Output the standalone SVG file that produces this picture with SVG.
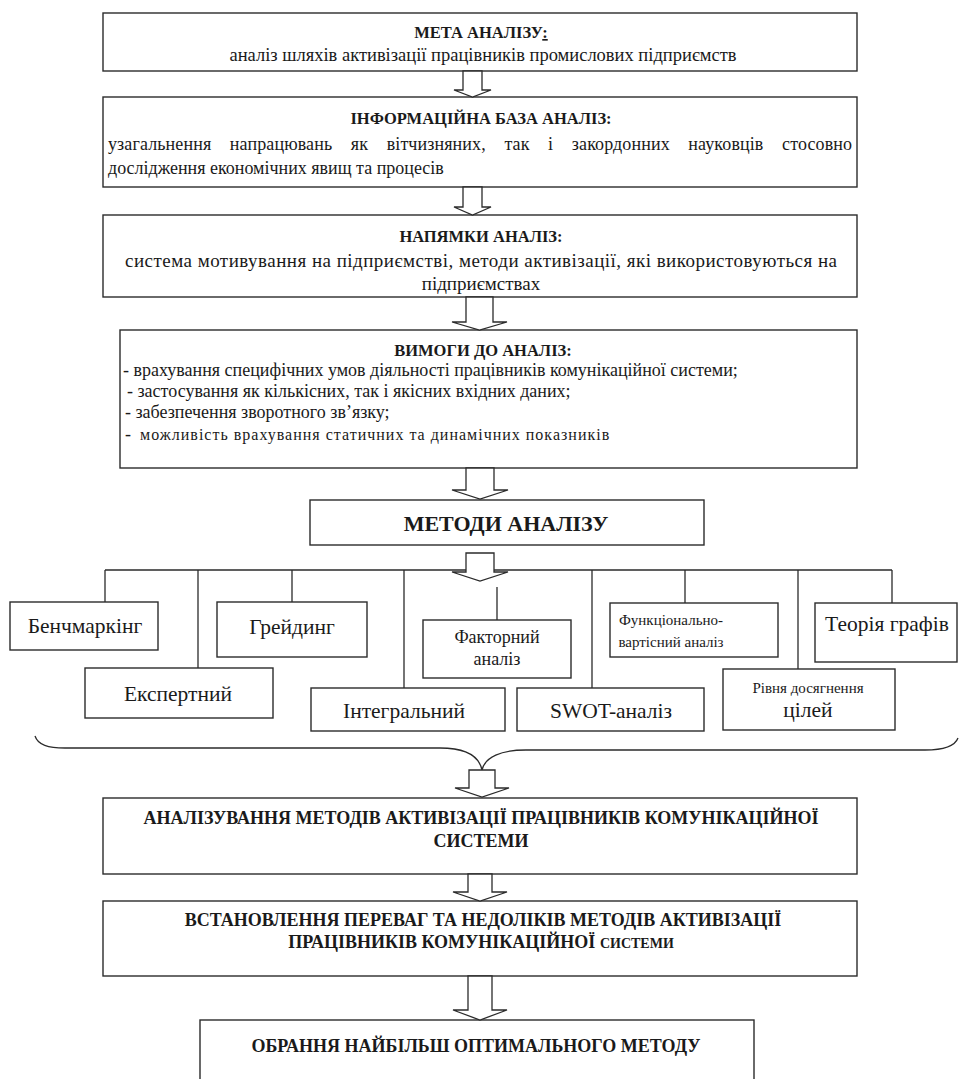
<svg xmlns="http://www.w3.org/2000/svg" width="961" height="1079" viewBox="0 0 961 1079" font-family="'Liberation Serif', 'Times New Roman', serif">
<style>
.bx{fill:#fff;stroke:#2b2b2b;stroke-width:1.4}
.ar{fill:#fff;stroke:#2b2b2b;stroke-width:1.3;stroke-linejoin:miter}
.ln{fill:none;stroke:#2b2b2b;stroke-width:1.3}
text{font-family:'Liberation Serif','Times New Roman',serif;fill:#1a1a1a}
.t{font-weight:bold;font-size:16.5px;text-anchor:middle}
.tb{font-weight:bold;font-size:18px;text-anchor:middle}
.b{font-size:18.5px}
.c{text-anchor:middle}
.l{font-size:18px}
.m{font-size:21.5px;text-anchor:middle}
.s{font-size:15px;text-anchor:middle}
</style>
<rect width="961" height="1079" fill="#fff"/>
<g id="goal">
<rect class="bx" x="103" y="13" width="754" height="58"/>
<text class="t" x="481" y="38">МЕТА АНАЛІЗУ<tspan text-decoration="underline">:</tspan></text>
<text class="b c" x="483" y="61">аналіз шляхів активізації працівників промислових підприємств</text>
</g>
<g id="infobase">
<rect class="bx" x="103" y="97" width="754" height="90"/>
<text class="t" x="481" y="124">ІНФОРМАЦІЙНА БАЗА АНАЛІЗ:</text>
<text x="108" y="150" font-size="18" word-spacing="14" textLength="744" lengthAdjust="spacing">узагальнення напрацювань як вітчизняних, так і закордонних науковців стосовно</text>
<text x="108" y="174" font-size="18">дослідження економічних явищ та процесів</text>
</g>
<g id="directions">
<rect class="bx" x="103" y="215" width="754" height="82"/>
<text class="t" x="481" y="242">НАПЯМКИ АНАЛІЗ:</text>
<text class="c" x="481" y="267" font-size="19" textLength="712" lengthAdjust="spacing">система мотивування на підприємстві, методи активізації, які використовуються на</text>
<text class="c" x="481" y="290" font-size="19">підприємствах</text>
</g>
<g id="requirements">
<rect class="bx" x="120" y="330" width="737" height="138"/>
<text class="t" x="483" y="356">ВИМОГИ ДО АНАЛІЗ:</text>
<text class="l" x="123" y="376">- врахування специфічних умов діяльності працівників комунікаційної системи;</text>
<text class="l" x="127" y="397">- застосування як кількісних, так і якісних вхідних даних;</text>
<text class="l" x="125" y="418">- забезпечення зворотного зв’язку;</text>
<text class="l" y="440"><tspan x="125">-</tspan><tspan x="140" font-size="16" letter-spacing="1">можливість врахування статичних та динамічних показників</tspan></text>
</g>
<g id="methods">
<rect class="bx" x="310" y="500" width="394" height="45"/>
<text x="506" y="531" font-size="22" font-weight="bold" text-anchor="middle">МЕТОДИ АНАЛІЗУ</text>
</g>
<g id="m-benchmarking">
<rect class="bx" x="10" y="602" width="148" height="48"/>
<text class="m" x="85" y="633">Бенчмаркінг</text>
</g>
<g id="m-grading">
<rect class="bx" x="217" y="602" width="150" height="55"/>
<text class="m" x="292" y="634">Грейдинг</text>
</g>
<g id="m-factor">
<rect class="bx" x="423" y="620" width="148" height="58"/>
<text x="497" y="643" font-size="18" text-anchor="middle">Факторний</text>
<text x="497" y="665" font-size="18" text-anchor="middle">аналіз</text>
</g>
<g id="m-fva">
<rect class="bx" x="610" y="603" width="168" height="54"/>
<text class="s" x="671" y="625">Функціонально-</text>
<text class="s" x="671" y="647">вартісний аналіз</text>
</g>
<g id="m-graph">
<rect class="bx" x="815" y="603" width="142" height="59"/>
<text class="m" x="887" y="631">Теорія графів</text>
</g>
<g id="m-expert">
<rect class="bx" x="85" y="668" width="188" height="50"/>
<text class="m" x="178" y="701">Експертний</text>
</g>
<g id="m-integral">
<rect class="bx" x="311" y="688" width="194" height="43"/>
<text class="m" x="404" y="718" font-size="22">Інтегральний</text>
</g>
<g id="m-swot">
<rect class="bx" x="517" y="688" width="187" height="43"/>
<text class="m" x="611" y="718" font-size="22">SWOT-аналіз</text>
</g>
<g id="m-goals">
<rect class="bx" x="723" y="669" width="172" height="61"/>
<text class="s" x="808" y="693">Рівня досягнення</text>
<text class="m" x="808" y="717">цілей</text>
</g>
<g id="analysing">
<rect class="bx" x="103" y="798" width="754" height="76"/>
<text class="tb" x="481" y="824">АНАЛІЗУВАННЯ МЕТОДІВ АКТИВІЗАЦІЇ ПРАЦІВНИКІВ КОМУНІКАЦІЙНОЇ</text>
<text class="tb" x="481" y="847">СИСТЕМИ</text>
</g>
<g id="pros-cons">
<rect class="bx" x="103" y="901" width="754" height="75"/>
<text class="tb" x="483" y="926">ВСТАНОВЛЕННЯ ПЕРЕВАГ ТА НЕДОЛІКІВ МЕТОДІВ АКТИВІЗАЦІЇ</text>
<text class="tb" x="481" y="948">ПРАЦІВНИКІВ КОМУНІКАЦІЙНОЇ <tspan font-size="14">СИСТЕМИ</tspan></text>
</g>
<g id="choice">
<rect class="bx" x="200" y="1020" width="554" height="80"/>
<text class="tb" x="476" y="1052">ОБРАННЯ НАЙБІЛЬШ ОПТИМАЛЬНОГО МЕТОДУ</text>
</g>
<g id="connectors">
<path class="ln" d="M105 570H892M105 570V602M198 570V668M292 570V602M404 570V688M497 587V620M592 570V688M685 570V603M798 570V669M892 570V603"/>
<path class="ln" d="M35 736C38 745 48 748 65 748L440 748C465 748 479 756 482 770C485 757 501 750 526 750L925 750C945 750 955 746 958 738"/>
<polygon class="ar" points="463,71 482,71 482,90 491,90 472.5,97 454,90 463,90"/>
<polygon class="ar" points="463,187 482,187 482,207 491,207 472.5,215 454,207 463,207"/>
<polygon class="ar" points="466,297 493,297 493,322 507,322 479.5,330 452,322 466,322"/>
<polygon class="ar" points="466,468 494,468 494,490 508,490 480,499 452,490 466,490"/>
<polygon class="ar" points="466,553 494,553 494,572 508,572 480,581 452,572 466,572"/>
<polygon class="ar" points="469,770 495,770 495,788 509,788 482,797 455,788 469,788"/>
<polygon class="ar" points="468,874 492,874 492,892 507,892 480,901 453,892 468,892"/>
<polygon class="ar" points="468,976 492,976 492,1010 507,1010 480,1020 453,1010 468,1010"/>
</g>
</svg>
